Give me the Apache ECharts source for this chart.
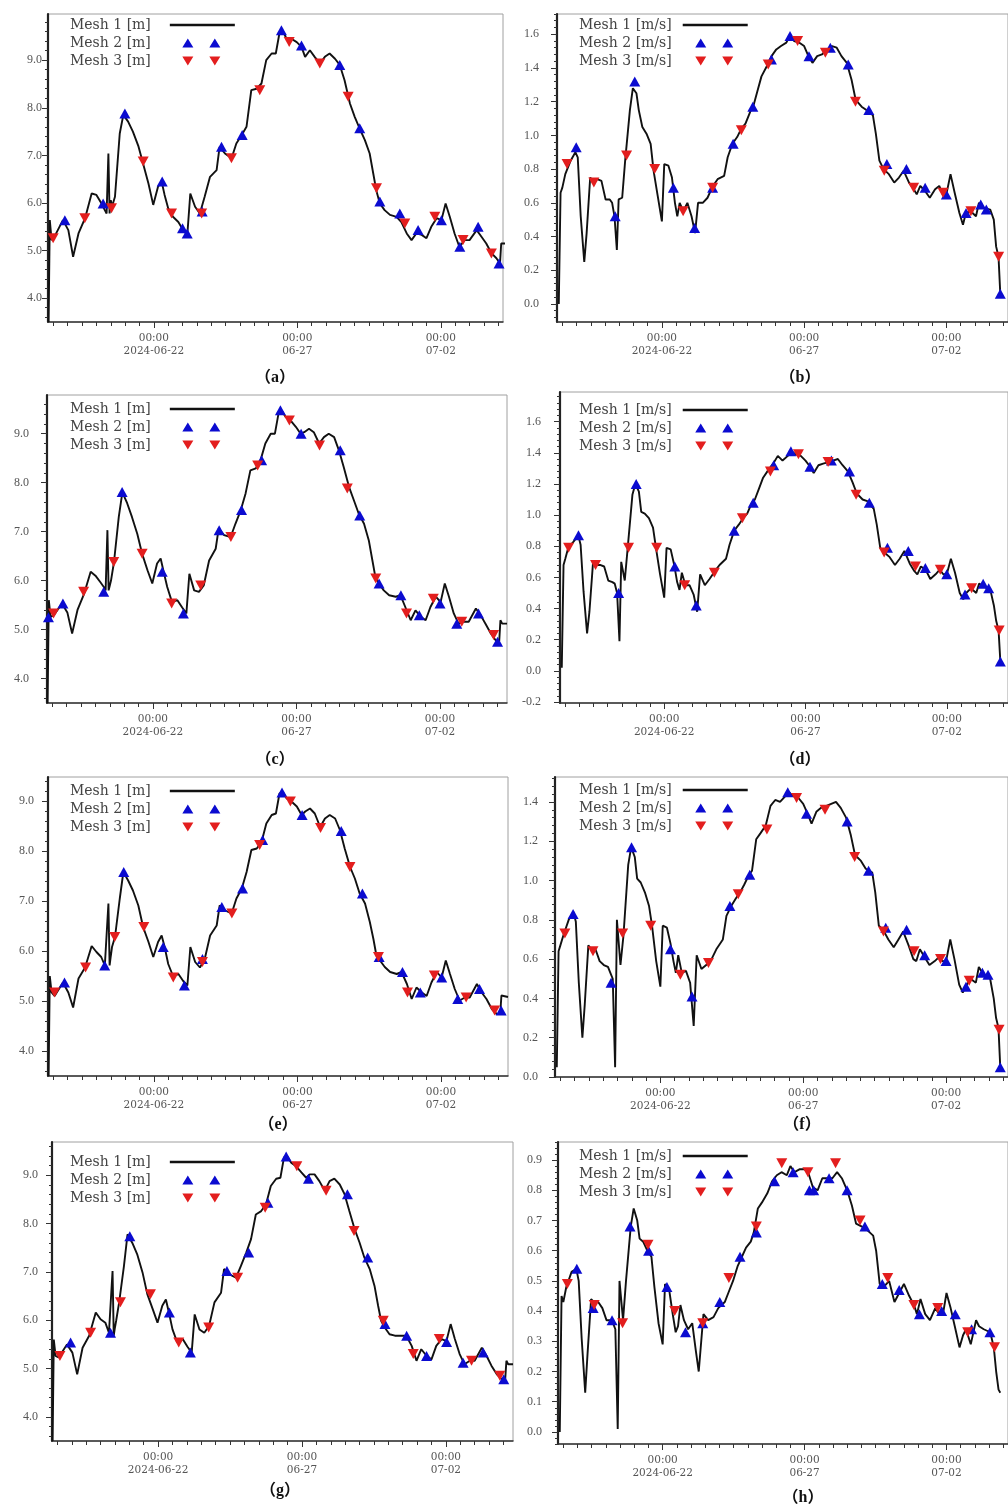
<!DOCTYPE html>
<html><head><meta charset="utf-8">
<script src="https://cdn.jsdelivr.net/npm/echarts@6.0.0/dist/echarts.min.js"></script>
<style>html,body{margin:0;padding:0;background:#fff}#c{width:1008px;height:1506px}</style>
</head><body><div id="c"></div>
<script>
// ---------------- DATA (hours relative to 2024-06-22 00:00) ----------------
const levelHours = [-88,-87,-85.5,-83,-76,-71.5,-67.5,-63,-57.5,-52,-48,-44,-41,-39.5,-38,-37,-36,-35,-32.5,-28.5,-25.5,-21.5,-17.5,-13,-9,-4.5,-0.5,3.5,6.5,9,12,16,20.5,24.5,28,30.5,34.5,38.5,42.5,47,52.5,55,59.5,65,69,73.5,77.5,81.5,86,90,94,98.5,102,105,107.5,111,115,119.5,123.5,126.5,130.5,134.5,139,143,147,151.5,155.5,159.5,164,168,172,176.5,180.5,183.5,186,189,193,197.5,203,207,211.5,215.5,219.5,224,228,232,236.5,240.5,244,247.5,251.5,255.5,260,264,270,274,278,282.5,286.5,289.5,290.5,292,296];
const levelA = [3.5,5.64,5.22,5.3,5.64,5.43,4.87,5.36,5.68,6.2,6.17,6.0,5.85,5.78,7.04,5.78,6.06,5.92,6.13,7.46,7.85,7.71,7.5,7.2,6.83,6.41,5.96,6.34,6.45,6.17,5.89,5.71,5.6,5.43,5.33,6.2,5.92,5.78,6.13,6.55,6.69,7.18,7.04,6.94,7.25,7.43,7.6,8.37,8.4,8.51,9.0,9.14,9.14,9.56,9.63,9.45,9.45,9.38,9.28,9.07,9.21,9.07,8.93,9.07,9.14,9.03,8.9,8.58,8.09,7.81,7.57,7.32,7.04,6.62,6.27,5.99,5.85,5.75,5.71,5.6,5.36,5.22,5.36,5.33,5.26,5.5,5.68,5.64,5.99,5.71,5.36,5.08,5.22,5.22,5.43,5.29,5.15,4.94,4.84,4.73,5.15,5.15,5.15];
const levelC = [3.5,5.6,5.26,5.29,5.53,5.35,4.92,5.4,5.73,6.18,6.1,5.97,5.87,5.8,7.03,5.8,5.9,6.0,6.38,7.3,7.8,7.58,7.3,6.95,6.55,6.21,5.94,6.35,6.45,6.18,5.87,5.56,5.6,5.45,5.33,6.14,5.8,5.77,5.9,6.41,6.65,7.06,6.93,6.89,7.16,7.44,7.78,8.25,8.29,8.46,8.8,9.0,9.0,9.41,9.48,9.34,9.27,9.14,9.0,9.03,9.1,9.03,8.8,8.93,9.0,8.93,8.66,8.32,7.91,7.64,7.37,7.16,6.82,6.41,6.07,5.94,5.8,5.7,5.67,5.7,5.43,5.19,5.39,5.26,5.19,5.46,5.67,5.56,5.94,5.67,5.33,5.12,5.16,5.16,5.43,5.29,5.12,4.92,4.78,4.76,5.19,5.12,5.12];
const levelE = [3.5,5.5,5.17,5.1,5.37,5.17,4.87,5.45,5.67,6.1,5.98,5.88,5.71,5.71,6.95,5.71,5.9,6.08,6.28,7.05,7.58,7.41,7.21,6.91,6.48,6.18,5.88,6.18,6.31,6.08,5.74,5.5,5.54,5.4,5.31,6.08,5.78,5.67,5.84,6.31,6.51,6.91,6.81,6.75,7.05,7.25,7.58,8.02,8.05,8.18,8.55,8.72,8.75,9.15,9.19,9.05,8.99,8.89,8.72,8.79,8.85,8.75,8.48,8.65,8.72,8.65,8.42,8.05,7.68,7.45,7.15,6.95,6.58,6.24,5.91,5.81,5.68,5.58,5.54,5.58,5.34,5.04,5.27,5.17,5.1,5.37,5.58,5.47,5.81,5.54,5.24,5.01,5.07,5.07,5.34,5.17,5.04,4.84,4.74,4.74,5.11,5.08,5.08];
const levelG = [3.5,5.6,5.26,5.23,5.5,5.33,4.88,5.43,5.68,6.16,6.02,5.95,5.74,5.74,7.02,5.68,5.85,5.99,6.37,7.12,7.78,7.6,7.37,6.99,6.54,6.23,5.95,6.3,6.43,6.16,5.81,5.54,5.61,5.45,5.33,6.12,5.81,5.74,5.88,6.37,6.57,7.06,6.95,6.88,7.12,7.4,7.68,8.19,8.26,8.4,8.78,8.93,8.95,9.37,9.4,9.26,9.19,9.06,8.95,9.02,9.02,8.88,8.68,8.88,8.93,8.81,8.61,8.26,7.88,7.61,7.3,7.06,6.71,6.3,5.99,5.85,5.71,5.68,5.68,5.68,5.47,5.16,5.4,5.26,5.19,5.47,5.61,5.57,5.92,5.61,5.3,5.09,5.16,5.16,5.43,5.26,5.06,4.88,4.78,4.78,5.16,5.09,5.09];

const speedHours = [-87,-85.5,-84,-81.5,-77,-73,-71,-68.5,-65.5,-63.5,-60.5,-58,-54.5,-51,-47.5,-44,-42,-40,-38,-36.5,-33.5,-31,-27,-24.5,-21.5,-19.5,-16.5,-13,-9.5,-7,-3.5,0,2,5.5,8.5,11,13,15,18,21.5,25,28,30.5,34.5,38.5,43,47,52.5,55.5,59.5,63.5,67,70.5,74.5,77,80.5,84,88.5,92.5,96.5,100.5,105,108,111.5,116,120,123,127,131,135,139.5,143.5,147.5,151.5,156,160,163.5,168.5,172.5,178,180.5,183.5,187,191.5,196,200,204,208.5,212.5,215,218,222,226,230.5,234,237,240,243.5,247,251,254,256.5,260.5,265,267.5,271.5,277,280,282,284,285.5];
const speedB = [0.0,0.66,0.69,0.77,0.85,0.9,0.87,0.52,0.25,0.42,0.75,0.73,0.74,0.73,0.62,0.62,0.6,0.52,0.32,0.62,0.63,0.85,1.15,1.28,1.25,1.15,1.05,1.01,0.95,0.79,0.64,0.49,0.83,0.82,0.75,0.6,0.52,0.6,0.55,0.6,0.52,0.42,0.6,0.6,0.63,0.7,0.74,0.76,0.87,0.95,0.99,1.04,1.07,1.14,1.17,1.26,1.35,1.41,1.47,1.51,1.53,1.55,1.59,1.56,1.55,1.53,1.48,1.43,1.47,1.48,1.51,1.53,1.52,1.47,1.43,1.33,1.21,1.17,1.15,1.12,1.01,0.85,0.8,0.77,0.72,0.75,0.79,0.72,0.68,0.65,0.7,0.67,0.63,0.68,0.7,0.65,0.65,0.77,0.66,0.54,0.47,0.54,0.55,0.52,0.6,0.57,0.56,0.5,0.34,0.28,0.06];
const speedD = [0.02,0.68,0.72,0.79,0.83,0.87,0.81,0.51,0.24,0.38,0.69,0.68,0.68,0.67,0.58,0.57,0.56,0.5,0.19,0.7,0.58,0.79,1.13,1.2,1.15,1.02,1.01,0.98,0.92,0.79,0.62,0.47,0.79,0.78,0.68,0.57,0.52,0.63,0.55,0.55,0.49,0.38,0.62,0.55,0.59,0.64,0.68,0.72,0.81,0.9,0.94,0.98,1.01,1.08,1.1,1.17,1.24,1.29,1.33,1.38,1.35,1.38,1.41,1.39,1.38,1.35,1.32,1.27,1.32,1.33,1.34,1.35,1.36,1.32,1.28,1.21,1.14,1.1,1.09,1.04,0.94,0.79,0.76,0.73,0.68,0.72,0.77,0.69,0.64,0.62,0.67,0.65,0.59,0.62,0.65,0.62,0.62,0.72,0.63,0.5,0.46,0.5,0.53,0.5,0.56,0.54,0.52,0.42,0.32,0.26,0.06];
const speedF = [0.05,0.64,0.67,0.72,0.8,0.84,0.79,0.48,0.2,0.37,0.67,0.65,0.65,0.59,0.57,0.56,0.53,0.5,0.05,0.8,0.57,0.72,1.08,1.17,1.12,1.01,0.99,0.94,0.87,0.77,0.59,0.46,0.77,0.76,0.68,0.59,0.53,0.62,0.53,0.54,0.48,0.26,0.62,0.55,0.57,0.6,0.65,0.7,0.82,0.87,0.91,0.94,0.98,1.03,1.05,1.21,1.24,1.28,1.38,1.41,1.4,1.43,1.45,1.43,1.42,1.39,1.35,1.29,1.35,1.37,1.38,1.39,1.4,1.37,1.32,1.23,1.13,1.1,1.06,1.04,0.94,0.77,0.75,0.7,0.66,0.7,0.74,0.67,0.6,0.59,0.65,0.61,0.57,0.59,0.61,0.59,0.59,0.7,0.6,0.47,0.43,0.46,0.5,0.48,0.56,0.52,0.5,0.4,0.3,0.25,0.05];
const speedH = [0.0,0.45,0.43,0.48,0.53,0.54,0.5,0.31,0.13,0.26,0.44,0.43,0.43,0.41,0.37,0.37,0.36,0.34,0.01,0.5,0.37,0.5,0.68,0.74,0.7,0.64,0.63,0.6,0.58,0.48,0.36,0.29,0.49,0.47,0.39,0.33,0.35,0.42,0.37,0.34,0.36,0.27,0.2,0.39,0.37,0.38,0.41,0.43,0.46,0.5,0.55,0.58,0.61,0.63,0.66,0.74,0.76,0.79,0.83,0.85,0.86,0.85,0.88,0.86,0.87,0.87,0.86,0.81,0.8,0.84,0.84,0.84,0.86,0.84,0.8,0.75,0.69,0.68,0.67,0.65,0.6,0.49,0.48,0.5,0.43,0.46,0.49,0.45,0.42,0.39,0.44,0.39,0.37,0.41,0.39,0.39,0.46,0.41,0.35,0.28,0.32,0.34,0.29,0.37,0.35,0.34,0.33,0.28,0.2,0.14,0.13];

// markers: [hour, value]
const aMesh2 = [[-74.4,5.64],[-42.4,5.99],[-24.2,7.88],[7,6.45],[24,5.47],[27.9,5.36],[40.4,5.82],[56.6,7.18],[73.9,7.43],[106.7,9.63],[123.5,9.31],[155.5,8.9],[172.2,7.57],[189,6.03],[205.7,5.78],[221,5.43],[240.5,5.64],[255.9,5.08],[271.2,5.5],[288.7,4.73]];
const aMesh3 = [[-84.2,5.26],[-57.7,5.68],[-35.4,5.89],[-8.9,6.87],[14.8,5.78],[40,5.78],[64.9,6.94],[88.6,8.37],[113.2,9.38],[138.8,8.93],[162.5,8.23],[186.2,6.31],[209.9,5.57],[235,5.71],[258.6,5.22],[282.3,4.94]];
const cMesh2 = [[-87.3,5.25],[-75.2,5.53],[-41.1,5.77],[-25.7,7.81],[7.8,6.18],[25.5,5.33],[55.4,7.03],[74.1,7.44],[90.9,8.46],[106.6,9.48],[123.9,9.0],[156.6,8.66],[172.9,7.33],[189.1,5.94],[207.3,5.7],[222.7,5.29],[240,5.53],[254,5.12],[272.2,5.33],[288.1,4.75]];
const cMesh3 = [[-83,5.33],[-57.9,5.77],[-32.7,6.38],[-9,6.55],[15.7,5.53],[40,5.9],[65.2,6.89],[87.6,8.35],[114.1,9.27],[139.3,8.76],[162.5,7.88],[186.3,6.04],[212,5.33],[234.4,5.63],[258.2,5.16],[284.8,4.89]];
const eMesh2 = [[-74.7,5.37],[-41.1,5.71],[-25.2,7.58],[7.8,6.08],[25.5,5.31],[40.6,5.84],[56.8,6.88],[74.1,7.25],[90.9,8.22],[107.1,9.17],[123.9,8.72],[156.6,8.4],[174.3,7.15],[188.3,5.88],[207.8,5.58],[222.7,5.17],[240.6,5.47],[254,5.04],[272.2,5.24],[290.3,4.81]];
const eMesh3 = [[-83,5.17],[-57.1,5.67],[-32.7,6.28],[-8.4,6.48],[16.2,5.47],[40.6,5.78],[65.2,6.75],[88.4,8.12],[114.1,8.99],[139.3,8.46],[163.9,7.68],[187.7,5.88],[212,5.17],[234.4,5.51],[261,5.07],[284.8,4.81]];
const gMesh2 = [[-73,5.54],[-39.7,5.74],[-23.6,7.74],[9.4,6.16],[26.9,5.33],[57.4,7.02],[75.5,7.4],[91.6,8.43],[106.8,9.39],[125.4,8.93],[157.9,8.61],[174.8,7.3],[189.2,5.92],[207.3,5.68],[223.9,5.26],[240.6,5.55],[254.4,5.12],[271.1,5.33],[288.3,4.78]];
const gMesh3 = [[-81.9,5.26],[-56.3,5.74],[-31.4,6.37],[-6.4,6.54],[17.2,5.54],[42.2,5.85],[66.3,6.88],[89.3,8.33],[115.7,9.19],[140.1,8.68],[163.4,7.85],[187.8,5.99],[212.8,5.3],[234.5,5.61],[261.4,5.16],[285,4.85]];
const bMesh2 = [[-72.3,0.93],[-39.4,0.52],[-22.9,1.32],[9.7,0.69],[27.6,0.45],[42.8,0.69],[60.1,0.95],[76.7,1.17],[92.4,1.45],[108.1,1.59],[124.1,1.47],[142.1,1.52],[157.2,1.42],[174.6,1.15],[189.8,0.83],[206.3,0.8],[222.1,0.69],[240,0.65],[256.6,0.54],[269,0.59],[273.7,0.56],[285.5,0.06]];
const bMesh3 = [[-80,0.83],[-57.4,0.72],[-29.8,0.88],[-6.1,0.8],[17.9,0.55],[42.8,0.69],[67,1.03],[89.7,1.42],[114.5,1.56],[137.9,1.49],[163.3,1.2],[187.6,0.79],[212.4,0.69],[237.2,0.66],[260.7,0.55],[284.1,0.28]];
const dMesh2 = [[-72.8,0.87],[-38.7,0.5],[-23.8,1.2],[9,0.67],[27.2,0.42],[59.4,0.9],[75.6,1.08],[93,1.32],[107.6,1.41],[123.8,1.31],[142,1.35],[157.4,1.28],[174.2,1.08],[189.6,0.79],[207.3,0.77],[221.8,0.66],[240,0.62],[255.5,0.49],[270.9,0.56],[275.6,0.53],[285.5,0.06]];
const dMesh3 = [[-81.2,0.79],[-58.3,0.68],[-30.3,0.79],[-6.4,0.79],[17.4,0.55],[42.6,0.63],[66.4,0.98],[90.2,1.28],[114,1.39],[139.2,1.34],[163,1.13],[186.8,0.76],[213.4,0.67],[234.5,0.65],[261.1,0.53],[284.5,0.26]];
const fMesh2 = [[-73.3,0.83],[-41.4,0.48],[-24.2,1.17],[8.5,0.65],[26.6,0.41],[58.4,0.87],[75.1,1.03],[107,1.45],[122.8,1.34],[156.9,1.3],[174.9,1.05],[189.3,0.76],[206.8,0.75],[222,0.62],[240,0.59],[256.7,0.46],[270.5,0.53],[275.2,0.52],[285.5,0.05]];
const fMesh3 = [[-80.2,0.73],[-56.6,0.64],[-31.7,0.73],[-8.1,0.77],[16.8,0.52],[40.4,0.58],[65.4,0.93],[89.5,1.26],[114.4,1.42],[138.3,1.36],[163.2,1.12],[187.4,0.74],[213.1,0.64],[235.3,0.6],[259.4,0.49],[284.5,0.24]];
const hMesh2 = [[-72.6,0.54],[-58.8,0.41],[-42.8,0.37],[-27.6,0.68],[-11.9,0.6],[3.6,0.48],[19.3,0.33],[33.9,0.36],[48.3,0.43],[65.4,0.58],[79.2,0.66],[94.6,0.83],[110.3,0.86],[124.1,0.8],[127.7,0.8],[140.7,0.84],[155.9,0.8],[171,0.68],[185.7,0.49],[200,0.47],[217.1,0.39],[235.9,0.4],[247.4,0.39],[261.2,0.34],[276.7,0.33]];
const hMesh3 = [[-80.6,0.49],[-57.9,0.42],[-33.9,0.36],[-12.4,0.62],[10.2,0.4],[33.9,0.36],[56,0.51],[79.2,0.68],[100.7,0.89],[122.8,0.86],[146.2,0.89],[166.9,0.7],[190.3,0.51],[212.4,0.42],[232.6,0.41],[257.9,0.33],[280.6,0.28]];

// tick labels
const xLabelHours = [0, 120, 240];
const xLabelText = ['00:00\n2024-06-22', '00:00\n06-27', '00:00\n07-02'];
const levelTicks = [4, 5, 6, 7, 8, 9];
const bTicks = [0, 0.2, 0.4, 0.6, 0.8, 1.0, 1.2, 1.4, 1.6];
const dTicks = [-0.2, 0, 0.2, 0.4, 0.6, 0.8, 1.0, 1.2, 1.4, 1.6];
const fTicks = [0, 0.2, 0.4, 0.6, 0.8, 1.0, 1.2, 1.4];
const hTicks = [0, 0.1, 0.2, 0.3, 0.4, 0.5, 0.6, 0.7, 0.8, 0.9];
const levelNames = ['Mesh 1 [m]', 'Mesh 2 [m]', 'Mesh 3 [m]'];
const speedNames = ['Mesh 1 [m/s]', 'Mesh 2 [m/s]', 'Mesh 3 [m/s]'];

// ---------------- LAYOUT ----------------
const panels = [
  {tag:'（a）', hours:levelHours, line:levelA, m2:aMesh2, m3:aMesh3, names:levelNames, ticks:levelTicks, minorStep:0.2,
   left:48, top:14, width:455, height:308, xMax:292, yMin:3.5, yMax:9.97, labMargin:6, legLeft:70, legTop:17, blank:14, tagX:275, tagY:378},
  {tag:'（b）', hours:speedHours, line:speedB, m2:bMesh2, m3:bMesh3, names:speedNames, ticks:bTicks, minorStep:0.04,
   left:557, top:14, width:460, height:308, xMax:292, yMin:-0.107, yMax:1.72, labMargin:18, legLeft:579, legTop:17, blank:6, tagX:800, tagY:378},
  {tag:'（c）', hours:levelHours, line:levelC, m2:cMesh2, m3:cMesh3, names:levelNames, ticks:levelTicks, minorStep:0.2,
   left:47, top:395, width:460, height:308, xMax:296, yMin:3.5, yMax:9.79, labMargin:18, legLeft:70, legTop:401, blank:14, tagX:275, tagY:760},
  {tag:'（d）', hours:speedHours, line:speedD, m2:dMesh2, m3:dMesh3, names:speedNames, ticks:dTicks, minorStep:0.04,
   left:560, top:392, width:455, height:311, xMax:292, yMin:-0.206, yMax:1.79, labMargin:19, legLeft:579, legTop:402, blank:6, tagX:800, tagY:760},
  {tag:'（e）', hours:levelHours, line:levelE, m2:eMesh2, m3:eMesh3, names:levelNames, ticks:levelTicks, minorStep:0.2,
   left:48, top:777, width:460, height:299, xMax:296, yMin:3.5, yMax:9.48, labMargin:14, legLeft:70, legTop:783, blank:14, tagX:278, tagY:1125},
  {tag:'（f）', hours:speedHours, line:speedF, m2:fMesh2, m3:fMesh3, names:speedNames, ticks:fTicks, minorStep:0.04,
   left:555, top:777, width:460, height:300, xMax:292, yMin:0, yMax:1.527, labMargin:17, legLeft:579, legTop:782, blank:6, tagX:802, tagY:1125},
  {tag:'（g）', hours:levelHours, line:levelG, m2:gMesh2, m3:gMesh3, names:levelNames, ticks:levelTicks, minorStep:0.2,
   left:52, top:1142, width:461, height:299, xMax:296, yMin:3.5, yMax:9.69, labMargin:14, legLeft:70, legTop:1154, blank:14, tagX:280, tagY:1491},
  {tag:'（h）', hours:speedHours, line:speedH, m2:hMesh2, m3:hMesh3, names:speedNames, ticks:hTicks, minorStep:0.02,
   left:558, top:1142, width:460, height:302, xMax:292, yMin:-0.04, yMax:0.96, labMargin:16, legLeft:579, legTop:1148, blank:6, tagX:803, tagY:1498}
];

const X_MIN = -88.5;
const LINE_COLOR = '#111';
const BLUE = '#0b0bd0';
const RED = '#e31e1e';
const SERIF = '"Liberation Serif", "DejaVu Serif", serif';

function anchors(W) { return `M0,0 L0.01,0 L0,0.01 Z M${W},10 L${W-0.01},10 L${W},9.99 Z `; }
function lineIcon(b) { const W = b + 65; return 'path://' + anchors(W) + `M${b},3.7 L${W},3.7 L${W},6.3 L${b},6.3 Z`; }
function upIcon(b) { const W = b + 65; return 'path://' + anchors(W) + `M${b+12.5},9.5 L${b+18},0.5 L${b+23.5},9.5 Z M${b+39.5},9.5 L${b+45},0.5 L${b+50.5},9.5 Z`; }
function downIcon(b) { const W = b + 65; return 'path://' + anchors(W) + `M${b+12.5},0.5 L${b+23.5},0.5 L${b+18},9.5 Z M${b+39.5},0.5 L${b+50.5},0.5 L${b+45},9.5 Z`; }

function stepValues(min, max, step) {
  const out = [];
  for (let k = Math.ceil(min / step - 1e-9); k * step <= max + 1e-9; k++) out.push(Math.round(k * step * 1000) / 1000);
  return out;
}

// overlay axis that only draws ticks
function tickOnlyAxis(gridIndex, position, min, max, values, length) {
  return {
    gridIndex, type: 'value', position, min, max,
    axisLine: {show: false, onZero: false},
    axisLabel: {show: false}, splitLine: {show: false},
    axisTick: {show: true, customValues: values, length, lineStyle: {color: '#333', width: 1}}
  };
}

const grid = [], xAxis = [], yAxis = [], series = [], legend = [], graphic = [];
panels.forEach((p, i) => {
  grid.push({left: p.left, top: p.top, width: p.width, height: p.height, show: true, borderColor: '#a0a0a0', borderWidth: 1, backgroundColor: 'transparent'});
  xAxis.push({
    gridIndex: i, type: 'value', position: 'bottom', min: X_MIN, max: p.xMax,
    axisLine: {show: true, onZero: false, lineStyle: {color: '#333', width: 1.5}},
    axisTick: {show: false},
    axisLabel: {customValues: xLabelHours, formatter: v => { const k = xLabelHours.indexOf(v); return k >= 0 ? xLabelText[k] : ''; },
      fontFamily: '"DejaVu Serif", serif', fontSize: 10.5, color: '#555', lineHeight: 13, margin: 10},
    splitLine: {show: false}
  });
  xAxis.push(tickOnlyAxis(i, 'bottom', X_MIN, p.xMax, stepValues(-84, p.xMax, 12), 4));
  xAxis.push(tickOnlyAxis(i, 'bottom', X_MIN, p.xMax, xLabelHours, 6));
  yAxis.push({
    gridIndex: i, type: 'value', position: 'left', min: p.yMin, max: p.yMax,
    axisLine: {show: true, onZero: false, lineStyle: {color: '#222', width: 2.2}},
    axisTick: {show: false},
    axisLabel: {customValues: p.ticks, formatter: v => v.toFixed(1), fontFamily: SERIF, fontSize: 12, color: '#555', margin: p.labMargin},
    splitLine: {show: false}
  });
  yAxis.push(tickOnlyAxis(i, 'left', p.yMin, p.yMax, stepValues(p.yMin, p.yMax, p.minorStep), 3));
  yAxis.push(tickOnlyAxis(i, 'left', p.yMin, p.yMax, p.ticks, 6));
  const xi = 3 * i, yi = 3 * i;
  series.push({
    type: 'line', name: p.names[0], xAxisIndex: xi, yAxisIndex: yi,
    data: p.hours.map((h, k) => [h, p.line[k]]),
    symbol: 'none', showSymbol: false, clip: true,
    lineStyle: {color: LINE_COLOR, width: 1.9}, itemStyle: {color: LINE_COLOR}, z: 3
  });
  series.push({
    type: 'scatter', name: p.names[1], xAxisIndex: xi, yAxisIndex: yi, data: p.m2,
    symbol: 'triangle', symbolSize: [11, 10], itemStyle: {color: BLUE, opacity: 1}, z: 4
  });
  series.push({
    type: 'scatter', name: p.names[2], xAxisIndex: xi, yAxisIndex: yi, data: p.m3,
    symbol: 'triangle', symbolRotate: 180, symbolSize: [11, 10], itemStyle: {color: RED, opacity: 1}, z: 4
  });
  legend.push({
    left: p.legLeft, top: p.legTop, orient: 'vertical', align: 'right', padding: 0, itemGap: 2,
    itemWidth: p.blank + 65, itemHeight: 10, selectedMode: false,
    textStyle: {fontFamily: '"DejaVu Serif", serif', fontSize: 14, color: '#444', lineHeight: 16},
    data: [
      {name: p.names[0], icon: lineIcon(p.blank), itemStyle: {color: LINE_COLOR, opacity: 1}},
      {name: p.names[1], icon: upIcon(p.blank), itemStyle: {color: BLUE, opacity: 1}},
      {name: p.names[2], icon: downIcon(p.blank), itemStyle: {color: RED, opacity: 1}}
    ]
  });
  graphic.push({
    type: 'text', x: p.tagX, y: p.tagY, z: 10,
    style: {text: p.tag, fontFamily: '"Liberation Serif", "Noto Sans CJK SC", serif', fontSize: 16, fontWeight: 'bold', fill: '#111',
      align: 'center', verticalAlign: 'middle', textAlign: 'center', textVerticalAlign: 'middle'}
  });
});

const chart = echarts.init(document.getElementById('c'), null, {renderer: 'canvas'});
chart.setOption({animation: false, backgroundColor: '#fff', grid, xAxis, yAxis, series, legend, graphic});
</script>
</body></html>
